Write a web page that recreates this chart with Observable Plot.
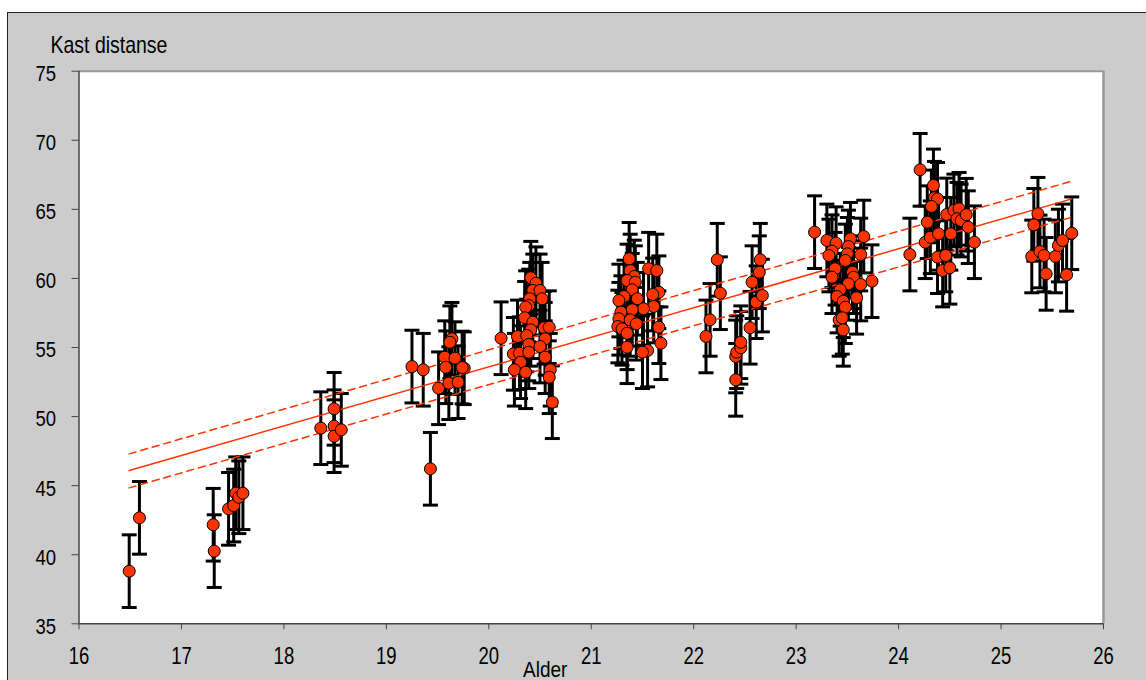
<!DOCTYPE html>
<html>
<head>
<meta charset="utf-8">
<script src="https://cdn.jsdelivr.net/npm/d3@7"></script>
<script src="https://cdn.jsdelivr.net/npm/@observablehq/plot@0.6"></script>
<style>
  html, body { margin: 0; padding: 0; width: 1146px; height: 680px; overflow: hidden; background: #ffffff; }
  #panel { position: absolute; left: 7px; top: 12px; width: 1139px; height: 668px; background: #cccccc;
           border-top: 1px solid #222; border-left: 1px solid #222; box-sizing: border-box; }
  #chart { position: absolute; left: 0; top: 0; }
</style>
</head>
<body>
<div id="panel"></div>
<div id="chart"></div>
<script>
// Alder (år) for hver utøver, gruppert etter aldersklynge
const alder = [
  16.49, 16.59,
  17.31, 17.32, 17.46, 17.51, 17.53, 17.56, 17.60,
  18.36, 18.49, 18.49, 18.49, 18.56,
  19.25, 19.36, 19.43, 19.64, 19.62, 19.57, 19.67, 19.58, 19.76, 19.74, 19.51, 19.61, 19.70,
  20.12, 20.41, 20.46, 20.43, 20.50, 20.52, 20.40, 20.39, 20.36, 20.35, 20.43, 20.41, 20.54, 20.59,
  20.28, 20.37, 20.55, 20.39, 20.50, 20.24, 20.30, 20.39, 20.55, 20.31, 20.25, 20.36, 20.60, 20.59, 20.62,
  21.37, 21.56, 21.64, 21.38, 21.42, 21.35, 21.43, 21.40, 21.66, 21.60, 21.32, 21.45, 21.27, 21.61,
  21.51, 21.40, 21.29, 21.27, 21.38, 21.44, 21.26, 21.66, 21.30, 21.35, 21.68, 21.35, 21.55, 21.50,
  22.12, 22.16, 22.23, 22.26, 22.41, 22.41, 22.42, 22.46, 22.46, 22.55, 22.57, 22.61, 22.64, 22.65, 22.67,
  23.18, 23.30, 23.39, 23.53, 23.66, 23.35, 23.51, 23.63, 23.32, 23.50, 23.48, 23.38, 23.55,
  23.35, 23.56, 23.74, 23.63, 23.51, 23.43, 23.59, 23.40, 23.46, 23.48, 23.42, 23.45, 23.46,
  24.11, 24.21, 24.34, 24.35, 24.38, 24.32, 24.28, 24.26, 24.31, 24.39, 24.51, 24.38, 24.46, 24.43,
  24.50, 24.47, 24.54, 24.59, 24.57, 24.61, 24.66, 24.68, 24.74,
  25.36, 25.32, 25.30, 25.38, 25.42, 25.44, 25.53, 25.56, 25.60, 25.69, 25.64
];

// Kastdistanse (m), i samme rekkefølge som alder
const kast = [
  38.81, 42.67,
  42.17, 40.26, 43.32, 43.56, 44.45, 44.16, 44.45,
  49.16, 50.56, 49.30, 48.58, 49.04,
  53.62, 53.39, 46.22, 55.63, 55.38, 54.30, 54.23, 53.57, 53.50, 53.55, 52.05, 52.42, 52.49,
  55.67, 60.05, 59.65, 59.13, 59.13, 58.53, 58.53, 58.04, 57.92, 57.15, 56.83, 56.28, 56.43, 56.47,
  55.80, 55.87, 55.63, 55.22, 55.07, 54.54, 54.59, 54.66, 54.30, 53.94, 53.39, 53.21, 53.39, 52.85, 51.04,
  61.42, 60.70, 60.57, 60.57, 60.14, 59.85, 59.73, 59.18, 59.00, 58.84, 58.69, 58.53, 58.40, 57.97,
  57.80, 57.73, 57.56, 57.08, 57.00, 56.72, 56.52, 56.47, 56.35, 56.03, 55.31, 55.02, 54.78, 54.66,
  55.80, 57.00, 61.35, 58.93, 52.66, 54.35, 54.66, 54.98, 55.38, 56.43, 59.73, 58.28, 60.45, 61.35, 58.76,
  63.35, 62.75, 62.55, 62.87, 63.03, 61.97, 62.31, 61.73, 61.66, 61.78, 61.30, 60.70, 60.45,
  60.09, 60.09, 59.80, 59.56, 59.61, 59.18, 58.60, 58.69, 58.35, 57.92, 57.00, 57.15, 56.28,
  61.73, 67.86, 66.73, 65.84, 65.76, 65.21, 64.07, 62.62, 62.98, 63.23, 63.23, 61.54, 61.66, 60.57,
  60.77, 64.63, 64.92, 65.04, 64.32, 64.19, 64.61, 63.71, 62.62,
  64.68, 63.88, 61.59, 61.95, 61.66, 60.33, 61.59, 62.38, 62.75, 63.27, 60.26
];

// Halv bredde på feilstolpene (m)
const feilmargin = 2.63;

// Regresjonslinje med øvre og nedre grense
const linjeAlder = [16.49, 25.69];
const linjeFit   = [46.10, 65.76];
const linjeOvre  = [47.30, 67.04];
const linjeNedre = [44.84, 64.43];

// Akseinndeling
const xTicks = [16, 17, 18, 19, 20, 21, 22, 23, 24, 25, 26];
const yTicks = [35, 40, 45, 50, 55, 60, 65, 70, 75];

const punkter = alder.map((a, i) => ({alder: a, kast: kast[i], feil: feilmargin}));
const linje = linjeAlder.map((a, i) => ({alder: a, fit: linjeFit[i], ovre: linjeOvre[i], nedre: linjeNedre[i]}));

// Horisontal strek brukt som endestykke på feilstolpene
const endestykke = {
  draw(ctx, size) {
    const w = Math.sqrt(size / Math.PI);
    ctx.moveTo(-w, 0);
    ctx.lineTo(w, 0);
  }
};

const rod = "#ff3300";

const chart = Plot.plot({
  width: 1146,
  height: 680,
  marginLeft: 78.5,
  marginRight: 43,
  marginTop: 70.7,
  marginBottom: 56.7,
  style: {background: "transparent", fontFamily: "'Liberation Sans', Arial, sans-serif", color: "#000"},
  x: {domain: [16, 26]},
  y: {domain: [35, 75]},
  marks: [
    Plot.frame({fill: "white", stroke: "none"}),
    Plot.ruleY([75], {stroke: "#999", strokeWidth: 2}),
    Plot.ruleX([26], {stroke: "#999", strokeWidth: 2.5}),
    Plot.axisX({ticks: xTicks, tickSize: 6, tickPadding: 19, tickFormat: d3.format("d"),
                fontSize: 18.5, stroke: "#444", label: null}),
    Plot.axisY({ticks: yTicks, tickSize: 7, tickPadding: 16, tickFormat: d3.format("d"),
                fontSize: 18.5, stroke: "#444", label: null}),
    Plot.ruleY([35], {stroke: "#444", strokeWidth: 1.5}),
    Plot.ruleX([16], {stroke: "#444", strokeWidth: 1.5}),

    // Feilstolper
    Plot.ruleX(punkter, {x: "alder", y1: d => d.kast - d.feil, y2: d => d.kast + d.feil,
                         stroke: "black", strokeWidth: 3}),
    Plot.dot(punkter, {x: "alder", y: d => d.kast + d.feil, symbol: endestykke, r: 7.5,
                       stroke: "black", strokeWidth: 3, fill: "none"}),
    Plot.dot(punkter, {x: "alder", y: d => d.kast - d.feil, symbol: endestykke, r: 7.5,
                       stroke: "black", strokeWidth: 3, fill: "none"}),

    // Regresjonslinje og grenser
    Plot.line(linje, {x: "alder", y: "ovre", stroke: rod, strokeWidth: 1.5, strokeDasharray: "7,5"}),
    Plot.line(linje, {x: "alder", y: "nedre", stroke: rod, strokeWidth: 1.5, strokeDasharray: "7,5"}),
    Plot.line(linje, {x: "alder", y: "fit", stroke: rod, strokeWidth: 1.5}),

    // Målepunkter
    Plot.dot(punkter, {x: "alder", y: "kast", r: 6, fill: rod, stroke: "black", strokeWidth: 1}),

    // Aksetitler
    Plot.text(["Kast distanse"], {frameAnchor: "top-left", textAnchor: "start", lineAnchor: "middle",
                                  dx: -28.5, dy: -25.7, fontSize: 19.5, fill: "black"}),
    Plot.text(["Alder"], {frameAnchor: "bottom", lineAnchor: "middle", dx: -46, dy: 45.7,
                          fontSize: 19, fill: "black"})
  ]
});

document.getElementById("chart").appendChild(chart);

// Strekk teksten litt i høyden for et smalere skriftsnitt
chart.querySelectorAll("text").forEach(t => {
  const owner = t.closest("[aria-label]");
  const label = owner ? owner.getAttribute("aria-label") : "";
  let k = 1.2, shift = 0;
  if (label.startsWith("x-axis")) { k = 1.3; shift = 0; }
  else if (label.startsWith("y-axis")) { k = 1.15; shift = 3; }
  const w = document.createElementNS("http://www.w3.org/2000/svg", "g");
  t.replaceWith(w);
  w.appendChild(t);
  const b = w.getBBox();
  const cy = b.y + b.height / 2;
  w.setAttribute("transform", `translate(0,${cy + shift}) scale(1,${k}) translate(0,${-cy})`);
});
</script>
</body>
</html>
